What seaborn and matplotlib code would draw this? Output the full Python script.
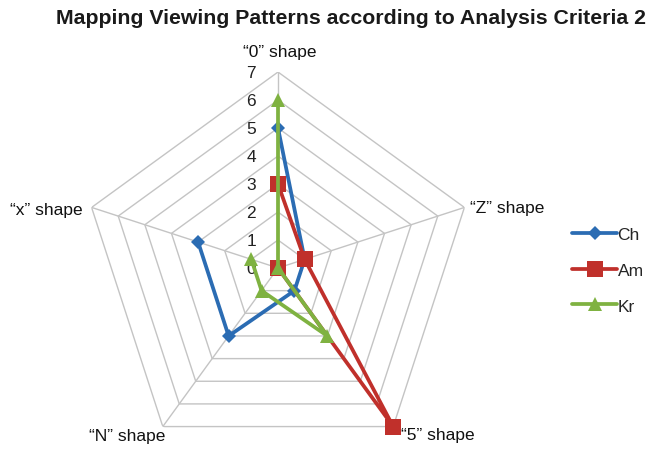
import numpy as np
import pandas as pd
import matplotlib
matplotlib.use("Agg")
import matplotlib.pyplot as plt
import matplotlib.transforms as mtransforms
import seaborn as sns

categories = ["\u201c0\u201d shape", "\u201cZ\u201d shape", "\u201c5\u201d shape", "\u201cN\u201d shape", "\u201cx\u201d shape"]
ch_values = [5, 1, 1, 3, 3]
am_values = [3, 1, 7, 0, 0]
kr_values = [6, 0, 3, 1, 1]
series_names = ["Ch", "Am", "Kr"]
radial_ticks = [0, 1, 2, 3, 4, 5, 6, 7]
title = "Mapping Viewing Patterns according to Analysis Criteria 2"

sns.set_style("white")
plt.rcParams["font.family"] = ["Liberation Sans", "DejaVu Sans"]

fig = plt.figure(figsize=(6.47, 4.52), dpi=100)
W, H = 647, 452
cx, cy, R = 278, 269, 196
ax = fig.add_axes([(cx - R) / W, 1 - (cy + R) / H, 2 * R / W, 2 * R / H], projection="polar")
ax.set_theta_zero_location("N")
ax.set_theta_direction(-1)
ax.set_ylim(0, max(radial_ticks))
ax.grid(False)
ax.spines["polar"].set_visible(False)
ax.set_xticks([])
ax.set_yticks([])
ax.patch.set_alpha(0)

n = len(categories)
theta = np.linspace(0, 2 * np.pi, n, endpoint=False)
theta_c = np.append(theta, theta[0])
grid_col = "#c4c4c4"
for r in radial_ticks[1:]:
    ax.plot(theta_c, [r] * (n + 1), color=grid_col, lw=1.0, zorder=1)
for t in theta:
    ax.plot([t, t], [0, max(radial_ticks)], color=grid_col, lw=1.0, zorder=1)

colors = {"Ch": "#2B6CB3", "Am": "#C0302B", "Kr": "#7FB241"}
markers = {"Ch": "D", "Am": "s", "Kr": "^"}
msizes = {"Ch": 7, "Am": 11, "Kr": 10}
vals = {"Ch": ch_values, "Am": am_values, "Kr": kr_values}
for i, name in enumerate(series_names):
    v = vals[name]
    df = pd.DataFrame({"theta": theta_c, "value": v + [v[0]]})
    sns.lineplot(data=df, x="theta", y="value", sort=False, ax=ax, color=colors[name],
                 lw=2.7, marker=markers[name], markersize=msizes[name],
                 markeredgewidth=0, label=name, legend=False, zorder=3 + i, clip_on=False)
ax.set_xlabel("")
ax.set_ylabel("")

fs = 12.5
off = mtransforms.offset_copy(ax.transData, fig=fig, x=-27, y=0, units="dots")
for r in radial_ticks:
    ax.text(0, r, str(r), transform=off, ha="center", va="center", fontsize=fs, color="#222222")

rmax = max(radial_ticks)
label_specs = [
    (dict(ha="center", va="center"), (2, 21)),
    (dict(ha="left", va="center"), (6, 0)),
    (dict(ha="left", va="center"), (8, -8)),
    (dict(ha="right", va="center"), (3, -9)),
    (dict(ha="right", va="center"), (-9, -2)),
]
for t, lab, (al, (dx, dy)) in zip(theta, categories, label_specs):
    tr = mtransforms.offset_copy(ax.transData, fig=fig, x=dx, y=dy, units="dots")
    ax.text(t, rmax, lab, transform=tr, fontsize=fs, color="#111111", **al)

fig.text(351 / W, 1 - 19 / H, title, ha="center", va="center", fontsize=15.3, fontweight="bold",
         color="#1a1a1a")

handles, labels = ax.get_legend_handles_labels()
fig.legend(handles, labels, loc="center left", bbox_to_anchor=(572 / W, 1 - 271 / H),
           frameon=False, fontsize=fs, handlelength=2.6, handletextpad=0.02, labelspacing=1.2,
           borderaxespad=0, borderpad=0)

fig.savefig("out.png", dpi=100)
